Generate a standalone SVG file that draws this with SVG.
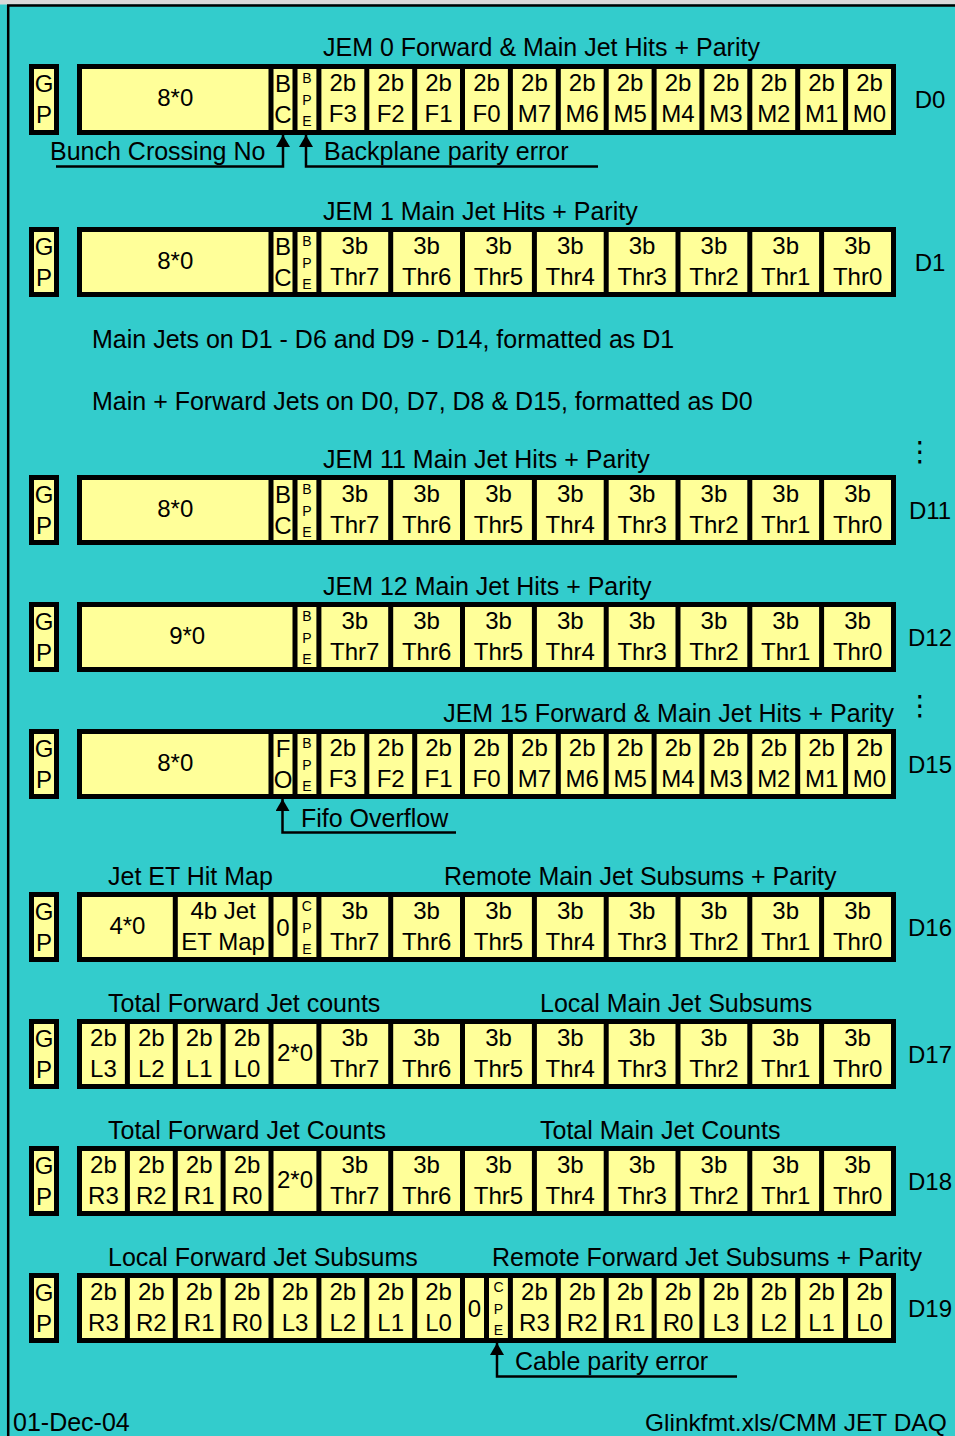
<svg xmlns="http://www.w3.org/2000/svg" width="955" height="1436" viewBox="0 0 955 1436">
<style>
text{font-family:"Liberation Sans",Arial,sans-serif;fill:#000}
.t{font-size:25px}
.c{font-size:24px;text-anchor:middle}
.s{font-size:14px;text-anchor:middle}
.lab{font-size:24px;text-anchor:middle}
.box{fill:#FFFF99;stroke:#000;stroke-width:5}
.sep{fill:none;stroke:#000;stroke-width:5}
.conn{fill:none;stroke:#000;stroke-width:2.5}
.dots{font-family:"DejaVu Sans",sans-serif;font-size:28px;text-anchor:middle}
</style>
<defs>
<marker id="arr" viewBox="0 0 12 14" refX="12" refY="7" markerWidth="12" markerHeight="14" markerUnits="userSpaceOnUse" orient="auto"><path d="M0,0L12,7L0,14z" fill="#000"/></marker>
</defs>
<rect x="0" y="0" width="955" height="1436" fill="#33CCCC"/>
<rect x="0" y="0" width="955" height="4.5" fill="#D9D9D9"/>
<path d="M7,5.5H955M8.2,5V1436" fill="none" stroke="#000" stroke-width="2.5"/>

<g id="row-D0" transform="translate(0,64)">
<text class="t" x="323" y="-8">JEM 0 Forward &amp; Main Jet Hits + Parity</text>
<rect class="box" x="31.5" y="2.5" width="25" height="66"/>
<rect class="box" x="79.5" y="2.5" width="814" height="66"/>
<path class="sep" d="M271,0V71M295,0V71M318.9,0V71M366.8,0V71M414.7,0V71M462.5,0V71M510.4,0V71M558.3,0V71M606.2,0V71M654.1,0V71M701.9,0V71M749.8,0V71M797.7,0V71M845.6,0V71"/>
<text class="c"><tspan x="44" y="27.5">G</tspan><tspan x="44" y="59">P</tspan></text>
<text class="c" x="175.3" y="42">8*0</text>
<text class="c"><tspan x="283" y="27.5">B</tspan><tspan x="283" y="59">C</tspan></text>
<text class="s"><tspan x="306.9" y="19">B</tspan><tspan x="306.9" y="41">P</tspan><tspan x="306.9" y="62">E</tspan></text>
<text class="c"><tspan x="342.8" y="26.5">2b</tspan><tspan x="342.8" y="57.5">F3</tspan></text>
<text class="c"><tspan x="390.7" y="26.5">2b</tspan><tspan x="390.7" y="57.5">F2</tspan></text>
<text class="c"><tspan x="438.6" y="26.5">2b</tspan><tspan x="438.6" y="57.5">F1</tspan></text>
<text class="c"><tspan x="486.5" y="26.5">2b</tspan><tspan x="486.5" y="57.5">F0</tspan></text>
<text class="c"><tspan x="534.4" y="26.5">2b</tspan><tspan x="534.4" y="57.5">M7</tspan></text>
<text class="c"><tspan x="582.2" y="26.5">2b</tspan><tspan x="582.2" y="57.5">M6</tspan></text>
<text class="c"><tspan x="630.1" y="26.5">2b</tspan><tspan x="630.1" y="57.5">M5</tspan></text>
<text class="c"><tspan x="678" y="26.5">2b</tspan><tspan x="678" y="57.5">M4</tspan></text>
<text class="c"><tspan x="725.9" y="26.5">2b</tspan><tspan x="725.9" y="57.5">M3</tspan></text>
<text class="c"><tspan x="773.8" y="26.5">2b</tspan><tspan x="773.8" y="57.5">M2</tspan></text>
<text class="c"><tspan x="821.6" y="26.5">2b</tspan><tspan x="821.6" y="57.5">M1</tspan></text>
<text class="c"><tspan x="869.5" y="26.5">2b</tspan><tspan x="869.5" y="57.5">M0</tspan></text>
<text class="lab" x="930" y="44">D0</text>
<text class="t" x="50" y="96">Bunch Crossing No</text>
<text class="t" x="324" y="96">Backplane parity error</text>
</g>

<g id="row-D1" transform="translate(0,227)">
<text class="t" x="323" y="-7">JEM 1 Main Jet Hits + Parity</text>
<rect class="box" x="31.5" y="2.5" width="25" height="65"/>
<rect class="box" x="79.5" y="2.5" width="814" height="65"/>
<path class="sep" d="M271,0V70M295,0V70M318.9,0V70M390.7,0V70M462.5,0V70M534.4,0V70M606.2,0V70M678,0V70M749.8,0V70M821.6,0V70"/>
<text class="c"><tspan x="44" y="27.5">G</tspan><tspan x="44" y="59">P</tspan></text>
<text class="c" x="175.3" y="42">8*0</text>
<text class="c"><tspan x="283" y="27.5">B</tspan><tspan x="283" y="59">C</tspan></text>
<text class="s"><tspan x="306.9" y="19">B</tspan><tspan x="306.9" y="41">P</tspan><tspan x="306.9" y="62">E</tspan></text>
<text class="c"><tspan x="354.8" y="26.5">3b</tspan><tspan x="354.8" y="57.5">Thr7</tspan></text>
<text class="c"><tspan x="426.6" y="26.5">3b</tspan><tspan x="426.6" y="57.5">Thr6</tspan></text>
<text class="c"><tspan x="498.5" y="26.5">3b</tspan><tspan x="498.5" y="57.5">Thr5</tspan></text>
<text class="c"><tspan x="570.3" y="26.5">3b</tspan><tspan x="570.3" y="57.5">Thr4</tspan></text>
<text class="c"><tspan x="642.1" y="26.5">3b</tspan><tspan x="642.1" y="57.5">Thr3</tspan></text>
<text class="c"><tspan x="713.9" y="26.5">3b</tspan><tspan x="713.9" y="57.5">Thr2</tspan></text>
<text class="c"><tspan x="785.7" y="26.5">3b</tspan><tspan x="785.7" y="57.5">Thr1</tspan></text>
<text class="c"><tspan x="857.6" y="26.5">3b</tspan><tspan x="857.6" y="57.5">Thr0</tspan></text>
<text class="lab" x="930" y="44">D1</text>
</g>

<g id="notes">
<text class="t" x="92" y="348">Main Jets on D1 - D6 and D9 - D14, formatted as D1</text>
<text class="t" x="92" y="410">Main + Forward Jets on D0, D7, D8 &amp; D15, formatted as D0</text>
<text class="dots" x="920" y="461">⋮</text>
<text class="dots" x="920" y="715">⋮</text>
</g>

<g id="row-D11" transform="translate(0,475)">
<text class="t" x="323" y="-7">JEM 11 Main Jet Hits + Parity</text>
<rect class="box" x="31.5" y="2.5" width="25" height="65"/>
<rect class="box" x="79.5" y="2.5" width="814" height="65"/>
<path class="sep" d="M271,0V70M295,0V70M318.9,0V70M390.7,0V70M462.5,0V70M534.4,0V70M606.2,0V70M678,0V70M749.8,0V70M821.6,0V70"/>
<text class="c"><tspan x="44" y="27.5">G</tspan><tspan x="44" y="59">P</tspan></text>
<text class="c" x="175.3" y="42">8*0</text>
<text class="c"><tspan x="283" y="27.5">B</tspan><tspan x="283" y="59">C</tspan></text>
<text class="s"><tspan x="306.9" y="19">B</tspan><tspan x="306.9" y="41">P</tspan><tspan x="306.9" y="62">E</tspan></text>
<text class="c"><tspan x="354.8" y="26.5">3b</tspan><tspan x="354.8" y="57.5">Thr7</tspan></text>
<text class="c"><tspan x="426.6" y="26.5">3b</tspan><tspan x="426.6" y="57.5">Thr6</tspan></text>
<text class="c"><tspan x="498.5" y="26.5">3b</tspan><tspan x="498.5" y="57.5">Thr5</tspan></text>
<text class="c"><tspan x="570.3" y="26.5">3b</tspan><tspan x="570.3" y="57.5">Thr4</tspan></text>
<text class="c"><tspan x="642.1" y="26.5">3b</tspan><tspan x="642.1" y="57.5">Thr3</tspan></text>
<text class="c"><tspan x="713.9" y="26.5">3b</tspan><tspan x="713.9" y="57.5">Thr2</tspan></text>
<text class="c"><tspan x="785.7" y="26.5">3b</tspan><tspan x="785.7" y="57.5">Thr1</tspan></text>
<text class="c"><tspan x="857.6" y="26.5">3b</tspan><tspan x="857.6" y="57.5">Thr0</tspan></text>
<text class="lab" x="930" y="44">D11</text>
</g>

<g id="row-D12" transform="translate(0,602)">
<text class="t" x="323" y="-7">JEM 12 Main Jet Hits + Parity</text>
<rect class="box" x="31.5" y="2.5" width="25" height="65"/>
<rect class="box" x="79.5" y="2.5" width="814" height="65"/>
<path class="sep" d="M295,0V70M318.9,0V70M390.7,0V70M462.5,0V70M534.4,0V70M606.2,0V70M678,0V70M749.8,0V70M821.6,0V70"/>
<text class="c"><tspan x="44" y="27.5">G</tspan><tspan x="44" y="59">P</tspan></text>
<text class="c" x="187.2" y="42">9*0</text>
<text class="s"><tspan x="306.9" y="19">B</tspan><tspan x="306.9" y="41">P</tspan><tspan x="306.9" y="62">E</tspan></text>
<text class="c"><tspan x="354.8" y="26.5">3b</tspan><tspan x="354.8" y="57.5">Thr7</tspan></text>
<text class="c"><tspan x="426.6" y="26.5">3b</tspan><tspan x="426.6" y="57.5">Thr6</tspan></text>
<text class="c"><tspan x="498.5" y="26.5">3b</tspan><tspan x="498.5" y="57.5">Thr5</tspan></text>
<text class="c"><tspan x="570.3" y="26.5">3b</tspan><tspan x="570.3" y="57.5">Thr4</tspan></text>
<text class="c"><tspan x="642.1" y="26.5">3b</tspan><tspan x="642.1" y="57.5">Thr3</tspan></text>
<text class="c"><tspan x="713.9" y="26.5">3b</tspan><tspan x="713.9" y="57.5">Thr2</tspan></text>
<text class="c"><tspan x="785.7" y="26.5">3b</tspan><tspan x="785.7" y="57.5">Thr1</tspan></text>
<text class="c"><tspan x="857.6" y="26.5">3b</tspan><tspan x="857.6" y="57.5">Thr0</tspan></text>
<text class="lab" x="930" y="44">D12</text>
</g>

<g id="row-D15" transform="translate(0,729)">
<text class="t" x="894" y="-7" text-anchor="end">JEM 15 Forward &amp; Main Jet Hits + Parity</text>
<rect class="box" x="31.5" y="2.5" width="25" height="65"/>
<rect class="box" x="79.5" y="2.5" width="814" height="65"/>
<path class="sep" d="M271,0V70M295,0V70M318.9,0V70M366.8,0V70M414.7,0V70M462.5,0V70M510.4,0V70M558.3,0V70M606.2,0V70M654.1,0V70M701.9,0V70M749.8,0V70M797.7,0V70M845.6,0V70"/>
<text class="c"><tspan x="44" y="27.5">G</tspan><tspan x="44" y="59">P</tspan></text>
<text class="c" x="175.3" y="42">8*0</text>
<text class="c"><tspan x="283" y="27.5">F</tspan><tspan x="283" y="59">O</tspan></text>
<text class="s"><tspan x="306.9" y="19">B</tspan><tspan x="306.9" y="41">P</tspan><tspan x="306.9" y="62">E</tspan></text>
<text class="c"><tspan x="342.8" y="26.5">2b</tspan><tspan x="342.8" y="57.5">F3</tspan></text>
<text class="c"><tspan x="390.7" y="26.5">2b</tspan><tspan x="390.7" y="57.5">F2</tspan></text>
<text class="c"><tspan x="438.6" y="26.5">2b</tspan><tspan x="438.6" y="57.5">F1</tspan></text>
<text class="c"><tspan x="486.5" y="26.5">2b</tspan><tspan x="486.5" y="57.5">F0</tspan></text>
<text class="c"><tspan x="534.4" y="26.5">2b</tspan><tspan x="534.4" y="57.5">M7</tspan></text>
<text class="c"><tspan x="582.2" y="26.5">2b</tspan><tspan x="582.2" y="57.5">M6</tspan></text>
<text class="c"><tspan x="630.1" y="26.5">2b</tspan><tspan x="630.1" y="57.5">M5</tspan></text>
<text class="c"><tspan x="678" y="26.5">2b</tspan><tspan x="678" y="57.5">M4</tspan></text>
<text class="c"><tspan x="725.9" y="26.5">2b</tspan><tspan x="725.9" y="57.5">M3</tspan></text>
<text class="c"><tspan x="773.8" y="26.5">2b</tspan><tspan x="773.8" y="57.5">M2</tspan></text>
<text class="c"><tspan x="821.6" y="26.5">2b</tspan><tspan x="821.6" y="57.5">M1</tspan></text>
<text class="c"><tspan x="869.5" y="26.5">2b</tspan><tspan x="869.5" y="57.5">M0</tspan></text>
<text class="lab" x="930" y="44">D15</text>
<text class="t" x="301" y="97.5">Fifo Overflow</text>
</g>

<g id="row-D16" transform="translate(0,892)">
<text class="t" x="108" y="-7">Jet ET Hit Map</text>
<text class="t" x="444" y="-7">Remote Main Jet Subsums + Parity</text>
<rect class="box" x="31.5" y="2.5" width="25" height="65"/>
<rect class="box" x="79.5" y="2.5" width="814" height="65"/>
<path class="sep" d="M175.3,0V70M271,0V70M295,0V70M318.9,0V70M390.7,0V70M462.5,0V70M534.4,0V70M606.2,0V70M678,0V70M749.8,0V70M821.6,0V70"/>
<text class="c"><tspan x="44" y="27.5">G</tspan><tspan x="44" y="59">P</tspan></text>
<text class="c" x="127.4" y="42">4*0</text>
<text class="c"><tspan x="223.1" y="26.5">4b Jet</tspan><tspan x="223.1" y="57.5">ET Map</tspan></text>
<text class="c" x="283" y="44">0</text>
<text class="s"><tspan x="306.9" y="19">C</tspan><tspan x="306.9" y="41">P</tspan><tspan x="306.9" y="62">E</tspan></text>
<text class="c"><tspan x="354.8" y="26.5">3b</tspan><tspan x="354.8" y="57.5">Thr7</tspan></text>
<text class="c"><tspan x="426.6" y="26.5">3b</tspan><tspan x="426.6" y="57.5">Thr6</tspan></text>
<text class="c"><tspan x="498.5" y="26.5">3b</tspan><tspan x="498.5" y="57.5">Thr5</tspan></text>
<text class="c"><tspan x="570.3" y="26.5">3b</tspan><tspan x="570.3" y="57.5">Thr4</tspan></text>
<text class="c"><tspan x="642.1" y="26.5">3b</tspan><tspan x="642.1" y="57.5">Thr3</tspan></text>
<text class="c"><tspan x="713.9" y="26.5">3b</tspan><tspan x="713.9" y="57.5">Thr2</tspan></text>
<text class="c"><tspan x="785.7" y="26.5">3b</tspan><tspan x="785.7" y="57.5">Thr1</tspan></text>
<text class="c"><tspan x="857.6" y="26.5">3b</tspan><tspan x="857.6" y="57.5">Thr0</tspan></text>
<text class="lab" x="930" y="44">D16</text>
</g>

<g id="row-D17" transform="translate(0,1019)">
<text class="t" x="108" y="-7">Total Forward Jet counts</text>
<text class="t" x="540" y="-7">Local Main Jet Subsums</text>
<rect class="box" x="31.5" y="2.5" width="25" height="65"/>
<rect class="box" x="79.5" y="2.5" width="814" height="65"/>
<path class="sep" d="M127.4,0V70M175.3,0V70M223.1,0V70M271,0V70M318.9,0V70M390.7,0V70M462.5,0V70M534.4,0V70M606.2,0V70M678,0V70M749.8,0V70M821.6,0V70"/>
<text class="c"><tspan x="44" y="27.5">G</tspan><tspan x="44" y="59">P</tspan></text>
<text class="c"><tspan x="103.4" y="26.5">2b</tspan><tspan x="103.4" y="57.5">L3</tspan></text>
<text class="c"><tspan x="151.3" y="26.5">2b</tspan><tspan x="151.3" y="57.5">L2</tspan></text>
<text class="c"><tspan x="199.2" y="26.5">2b</tspan><tspan x="199.2" y="57.5">L1</tspan></text>
<text class="c"><tspan x="247.1" y="26.5">2b</tspan><tspan x="247.1" y="57.5">L0</tspan></text>
<text class="c" x="295" y="42">2*0</text>
<text class="c"><tspan x="354.8" y="26.5">3b</tspan><tspan x="354.8" y="57.5">Thr7</tspan></text>
<text class="c"><tspan x="426.6" y="26.5">3b</tspan><tspan x="426.6" y="57.5">Thr6</tspan></text>
<text class="c"><tspan x="498.5" y="26.5">3b</tspan><tspan x="498.5" y="57.5">Thr5</tspan></text>
<text class="c"><tspan x="570.3" y="26.5">3b</tspan><tspan x="570.3" y="57.5">Thr4</tspan></text>
<text class="c"><tspan x="642.1" y="26.5">3b</tspan><tspan x="642.1" y="57.5">Thr3</tspan></text>
<text class="c"><tspan x="713.9" y="26.5">3b</tspan><tspan x="713.9" y="57.5">Thr2</tspan></text>
<text class="c"><tspan x="785.7" y="26.5">3b</tspan><tspan x="785.7" y="57.5">Thr1</tspan></text>
<text class="c"><tspan x="857.6" y="26.5">3b</tspan><tspan x="857.6" y="57.5">Thr0</tspan></text>
<text class="lab" x="930" y="44">D17</text>
</g>

<g id="row-D18" transform="translate(0,1146)">
<text class="t" x="108" y="-7">Total Forward Jet Counts</text>
<text class="t" x="540" y="-7">Total Main Jet Counts</text>
<rect class="box" x="31.5" y="2.5" width="25" height="65"/>
<rect class="box" x="79.5" y="2.5" width="814" height="65"/>
<path class="sep" d="M127.4,0V70M175.3,0V70M223.1,0V70M271,0V70M318.9,0V70M390.7,0V70M462.5,0V70M534.4,0V70M606.2,0V70M678,0V70M749.8,0V70M821.6,0V70"/>
<text class="c"><tspan x="44" y="27.5">G</tspan><tspan x="44" y="59">P</tspan></text>
<text class="c"><tspan x="103.4" y="26.5">2b</tspan><tspan x="103.4" y="57.5">R3</tspan></text>
<text class="c"><tspan x="151.3" y="26.5">2b</tspan><tspan x="151.3" y="57.5">R2</tspan></text>
<text class="c"><tspan x="199.2" y="26.5">2b</tspan><tspan x="199.2" y="57.5">R1</tspan></text>
<text class="c"><tspan x="247.1" y="26.5">2b</tspan><tspan x="247.1" y="57.5">R0</tspan></text>
<text class="c" x="295" y="42">2*0</text>
<text class="c"><tspan x="354.8" y="26.5">3b</tspan><tspan x="354.8" y="57.5">Thr7</tspan></text>
<text class="c"><tspan x="426.6" y="26.5">3b</tspan><tspan x="426.6" y="57.5">Thr6</tspan></text>
<text class="c"><tspan x="498.5" y="26.5">3b</tspan><tspan x="498.5" y="57.5">Thr5</tspan></text>
<text class="c"><tspan x="570.3" y="26.5">3b</tspan><tspan x="570.3" y="57.5">Thr4</tspan></text>
<text class="c"><tspan x="642.1" y="26.5">3b</tspan><tspan x="642.1" y="57.5">Thr3</tspan></text>
<text class="c"><tspan x="713.9" y="26.5">3b</tspan><tspan x="713.9" y="57.5">Thr2</tspan></text>
<text class="c"><tspan x="785.7" y="26.5">3b</tspan><tspan x="785.7" y="57.5">Thr1</tspan></text>
<text class="c"><tspan x="857.6" y="26.5">3b</tspan><tspan x="857.6" y="57.5">Thr0</tspan></text>
<text class="lab" x="930" y="44">D18</text>
</g>

<g id="row-D19" transform="translate(0,1273)">
<text class="t" x="108" y="-7">Local Forward Jet Subsums</text>
<text class="t" x="492" y="-7">Remote Forward Jet Subsums + Parity</text>
<rect class="box" x="31.5" y="2.5" width="25" height="65"/>
<rect class="box" x="79.5" y="2.5" width="814" height="65"/>
<path class="sep" d="M127.4,0V70M175.3,0V70M223.1,0V70M271,0V70M318.9,0V70M366.8,0V70M414.7,0V70M462.5,0V70M486.5,0V70M510.4,0V70M558.3,0V70M606.2,0V70M654.1,0V70M701.9,0V70M749.8,0V70M797.7,0V70M845.6,0V70"/>
<text class="c"><tspan x="44" y="27.5">G</tspan><tspan x="44" y="59">P</tspan></text>
<text class="c"><tspan x="103.4" y="26.5">2b</tspan><tspan x="103.4" y="57.5">R3</tspan></text>
<text class="c"><tspan x="151.3" y="26.5">2b</tspan><tspan x="151.3" y="57.5">R2</tspan></text>
<text class="c"><tspan x="199.2" y="26.5">2b</tspan><tspan x="199.2" y="57.5">R1</tspan></text>
<text class="c"><tspan x="247.1" y="26.5">2b</tspan><tspan x="247.1" y="57.5">R0</tspan></text>
<text class="c"><tspan x="295" y="26.5">2b</tspan><tspan x="295" y="57.5">L3</tspan></text>
<text class="c"><tspan x="342.8" y="26.5">2b</tspan><tspan x="342.8" y="57.5">L2</tspan></text>
<text class="c"><tspan x="390.7" y="26.5">2b</tspan><tspan x="390.7" y="57.5">L1</tspan></text>
<text class="c"><tspan x="438.6" y="26.5">2b</tspan><tspan x="438.6" y="57.5">L0</tspan></text>
<text class="c" x="474.5" y="44">0</text>
<text class="s"><tspan x="498.5" y="19">C</tspan><tspan x="498.5" y="41">P</tspan><tspan x="498.5" y="62">E</tspan></text>
<text class="c"><tspan x="534.4" y="26.5">2b</tspan><tspan x="534.4" y="57.5">R3</tspan></text>
<text class="c"><tspan x="582.2" y="26.5">2b</tspan><tspan x="582.2" y="57.5">R2</tspan></text>
<text class="c"><tspan x="630.1" y="26.5">2b</tspan><tspan x="630.1" y="57.5">R1</tspan></text>
<text class="c"><tspan x="678" y="26.5">2b</tspan><tspan x="678" y="57.5">R0</tspan></text>
<text class="c"><tspan x="725.9" y="26.5">2b</tspan><tspan x="725.9" y="57.5">L3</tspan></text>
<text class="c"><tspan x="773.8" y="26.5">2b</tspan><tspan x="773.8" y="57.5">L2</tspan></text>
<text class="c"><tspan x="821.6" y="26.5">2b</tspan><tspan x="821.6" y="57.5">L1</tspan></text>
<text class="c"><tspan x="869.5" y="26.5">2b</tspan><tspan x="869.5" y="57.5">L0</tspan></text>
<text class="lab" x="930" y="44">D19</text>
<text class="t" x="515" y="97">Cable parity error</text>
</g>

<g id="connectors">
<path class="conn" d="M56,166.5H283V135" marker-end="url(#arr)"/>
<path class="conn" d="M598,166.5H306V135" marker-end="url(#arr)"/>
<path class="conn" d="M456,832.5H282.5V799" marker-end="url(#arr)"/>
<path class="conn" d="M737,1376.5H497V1343" marker-end="url(#arr)"/>
</g>

<g id="footer">
<text class="t" x="13" y="1431">01-Dec-04</text>
<text class="t" x="645" y="1431" style="font-size:24.5px">Glinkfmt.xls/CMM JET DAQ</text>
</g>
</svg>
